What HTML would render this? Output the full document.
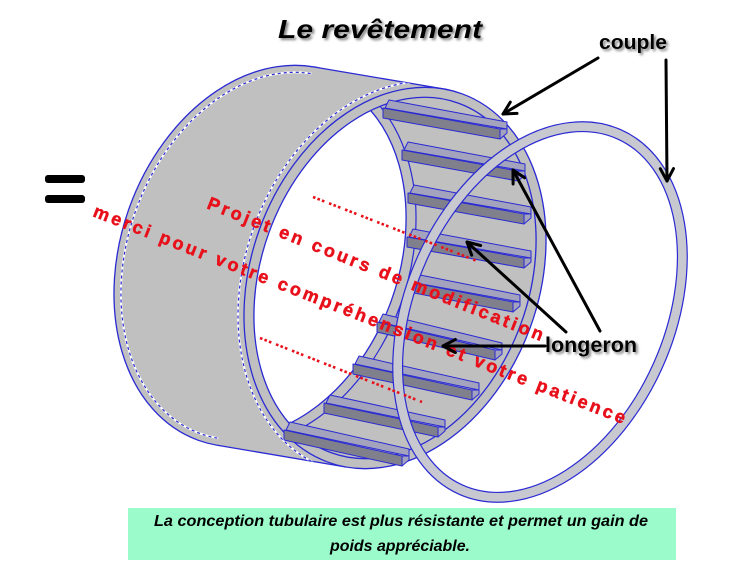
<!DOCTYPE html>
<html><head><meta charset="utf-8">
<style>
html,body{margin:0;padding:0;background:#fff;width:742px;height:564px;overflow:hidden}
svg{display:block}
</style></head>
<body>
<svg xmlns="http://www.w3.org/2000/svg" width="742" height="564" viewBox="0 0 742 564" font-family="'Liberation Sans', sans-serif">
<defs>
  <clipPath id="frontInner"><ellipse cx="395" cy="278" rx="134" ry="186" transform="rotate(20 395 278)"/></clipPath>
  <clipPath id="shellSil">
    <ellipse cx="265" cy="256" rx="144" ry="196" transform="rotate(20 265 256)"/>
    <polygon points="313.4,66.9 443.4,88.9 346.6,467.1 216.6,445.1"/>
  </clipPath>
  <clipPath id="backHalf"><polygon points="320,40 202.5,500 0,500 0,40"/></clipPath>
  <clipPath id="frontHalf"><polygon points="451,60 338,500 0,500 0,60"/></clipPath>
  <filter id="sh" x="-10%" y="-30%" width="130%" height="170%">
    <feDropShadow dx="2" dy="2" stdDeviation="1.3" flood-color="#666" flood-opacity="0.8"/>
  </filter>
</defs>

<!-- shell exterior -->
<ellipse cx="265" cy="256" rx="144" ry="196" transform="rotate(20 265 256)" fill="#c0c0c0" stroke="#2a2ad4" stroke-width="1.3"/>
<polygon points="313.4,66.9 443.4,88.9 346.6,467.1 216.6,445.1" fill="#c0c0c0"/>
<line x1="313.4" y1="66.9" x2="443.4" y2="88.9" stroke="#2a2ad4" stroke-width="1.3"/>
<line x1="216.6" y1="445.1" x2="346.6" y2="467.1" stroke="#2a2ad4" stroke-width="1.3"/>

<!-- dashed lines on exterior -->
<g clip-path="url(#backHalf)">
  <ellipse cx="265" cy="256" rx="137" ry="189" transform="rotate(20 265 256)" fill="none" stroke="#fff" stroke-width="2"/>
  <ellipse cx="265" cy="256" rx="137" ry="189" transform="rotate(20 265 256)" fill="none" stroke="#2a2ad4" stroke-width="1.2" stroke-dasharray="3 3"/>
</g>
<g clip-path="url(#shellSil)">
  <g clip-path="url(#frontHalf)">
    <ellipse cx="395" cy="278" rx="150" ry="202" transform="rotate(20 395 278)" fill="none" stroke="#fff" stroke-width="2"/>
    <ellipse cx="395" cy="278" rx="150" ry="202" transform="rotate(20 395 278)" fill="none" stroke="#2a2ad4" stroke-width="1.2" stroke-dasharray="3 3"/>
  </g>
</g>

<!-- front opening -->
<ellipse cx="395" cy="278" rx="144" ry="196" transform="rotate(20 395 278)" fill="#c0c0c0" stroke="#2a2ad4" stroke-width="1.3"/>
<g clip-path="url(#frontInner)">
  <ellipse cx="265" cy="256" rx="134" ry="186" transform="rotate(20 265 256)" fill="#fff" stroke="#2a2ad4" stroke-width="1.3"/>
  <ellipse cx="265" cy="256" rx="144" ry="196" transform="rotate(20 265 256)" fill="none" stroke="#2a2ad4" stroke-width="1.2"/>
</g>
<ellipse cx="395" cy="278" rx="134" ry="186" transform="rotate(20 395 278)" fill="none" stroke="#2a2ad4" stroke-width="1.3"/>

<!-- longerons -->
<g stroke="#2a2ad4" stroke-width="1" stroke-linejoin="round">
  <polygon points="389,100 507,122 507,129 385,108" fill="#a3a3bd"/>
  <polygon points="383,108 500,129 500,139 383,118" fill="#80808c"/>
  <polygon points="500,129 507,129 507,133 500,139" fill="#a3a3bd"/>

  <polygon points="408,142 525,164 525,171 404,150" fill="#a3a3bd"/>
  <polygon points="402,150 518,171 518,181 402,160" fill="#80808c"/>
  <polygon points="518,171 525,171 525,175 518,181" fill="#a3a3bd"/>

  <polygon points="414,185 531,207 531,214 410,193" fill="#a3a3bd"/>
  <polygon points="408,193 524,214 524,224 408,203" fill="#80808c"/>
  <polygon points="524,214 531,214 531,218 524,224" fill="#a3a3bd"/>

  <polygon points="413,229 531,251 531,258 409,237" fill="#a3a3bd"/>
  <polygon points="407,237 524,258 524,268 407,247" fill="#80808c"/>
  <polygon points="524,258 531,258 531,262 524,268" fill="#a3a3bd"/>

  <polygon points="420,275 520,295 520,302 416,283" fill="#a3a3bd"/>
  <polygon points="414,283 513,302 513,312 414,293" fill="#80808c"/>
  <polygon points="513,302 520,302 520,306 513,312" fill="#a3a3bd"/>

  <polygon points="383,314 502,343 502,350 379,322" fill="#a3a3bd"/>
  <polygon points="377,322 495,350 495,360 377,332" fill="#80808c"/>
  <polygon points="495,350 502,350 502,354 495,360" fill="#a3a3bd"/>

  <polygon points="359,356 479,383 479,390 355,364" fill="#a3a3bd"/>
  <polygon points="353,364 472,390 472,400 353,374" fill="#80808c"/>
  <polygon points="472,390 479,390 479,394 472,400" fill="#a3a3bd"/>

  <polygon points="330,395 445,420 445,427 326,403" fill="#a3a3bd"/>
  <polygon points="324,403 438,427 438,437 324,413" fill="#80808c"/>
  <polygon points="438,427 445,427 445,431 438,437" fill="#a3a3bd"/>

  <polygon points="290,422 409,449 409,456 286,430" fill="#a3a3bd"/>
  <polygon points="284,430 402,456 402,466 284,440" fill="#80808c"/>
  <polygon points="402,456 409,456 409,460 402,466" fill="#a3a3bd"/>
</g>

<!-- couple ring -->
<ellipse cx="540" cy="312" rx="129.5" ry="194.5" transform="rotate(24 540 312)" fill="none" stroke="#2a2ad4" stroke-width="11"/>
<ellipse cx="540" cy="312" rx="129.5" ry="194.5" transform="rotate(24 540 312)" fill="none" stroke="#c8c8d0" stroke-width="8.6"/>

<!-- red watermark -->
<g stroke="#e8101a" stroke-width="2.6" stroke-dasharray="2.6 2.2 2.6 2.2 2.6 5" fill="none">
  <line x1="313" y1="197" x2="477" y2="261"/>
  <line x1="260" y1="338" x2="422" y2="402"/>
</g>
<g fill="#e8101a" stroke="#e8101a" stroke-width="0.5" font-size="18" font-weight="bold">
  <text transform="translate(206,208) rotate(21.7)" textLength="360" lengthAdjust="spacing">Projet en cours de modification</text>
  <text transform="translate(92,216) rotate(21.4)" textLength="570" lengthAdjust="spacing">merci pour votre compréhension et votre patience</text>
</g>

<!-- arrows -->
<g stroke="#000" stroke-width="3" fill="none" stroke-linecap="round" stroke-linejoin="round">
  <line x1="598" y1="58" x2="503" y2="114"/>
  <polyline points="517,113.4 503,114 510.3,102.1"/>
  <line x1="666" y1="60" x2="667" y2="181"/>
  <polyline points="673.5,168.6 667,181 660.3,168.7"/>
  <line x1="600" y1="331" x2="513" y2="170"/>
  <polyline points="513.1,184 513,170 524.6,177.8"/>
  <line x1="566" y1="332" x2="467" y2="242"/>
  <polyline points="471.7,255.2 467,242 480.6,245.5"/>
  <line x1="545" y1="346" x2="443" y2="346"/>
  <polyline points="455.4,352.6 443,346 455.4,339.4"/>
</g>

<!-- labels -->
<text x="278" y="38" font-size="26" font-weight="bold" font-style="italic" textLength="204" lengthAdjust="spacingAndGlyphs" filter="url(#sh)">Le revêtement</text>
<text x="599" y="49" font-size="20" font-weight="bold" textLength="68" lengthAdjust="spacingAndGlyphs" filter="url(#sh)">couple</text>
<text x="545" y="352" font-size="21" font-weight="bold" textLength="92" lengthAdjust="spacingAndGlyphs" filter="url(#sh)">longeron</text>

<!-- equals -->
<rect x="45" y="175" width="40" height="8" rx="3" fill="#000"/>
<rect x="45" y="195" width="40" height="8" rx="3" fill="#000"/>

<!-- green box -->
<rect x="128" y="508" width="548" height="52" fill="#9bfbcb"/>
<g font-size="15.5" font-weight="bold" font-style="italic" fill="#000" text-anchor="middle">
  <text x="401" y="526" textLength="494" lengthAdjust="spacingAndGlyphs">La conception tubulaire est plus résistante et permet un gain de</text>
  <text x="400" y="551" textLength="140" lengthAdjust="spacingAndGlyphs">poids appréciable.</text>
</g>
</svg>
</body></html>
